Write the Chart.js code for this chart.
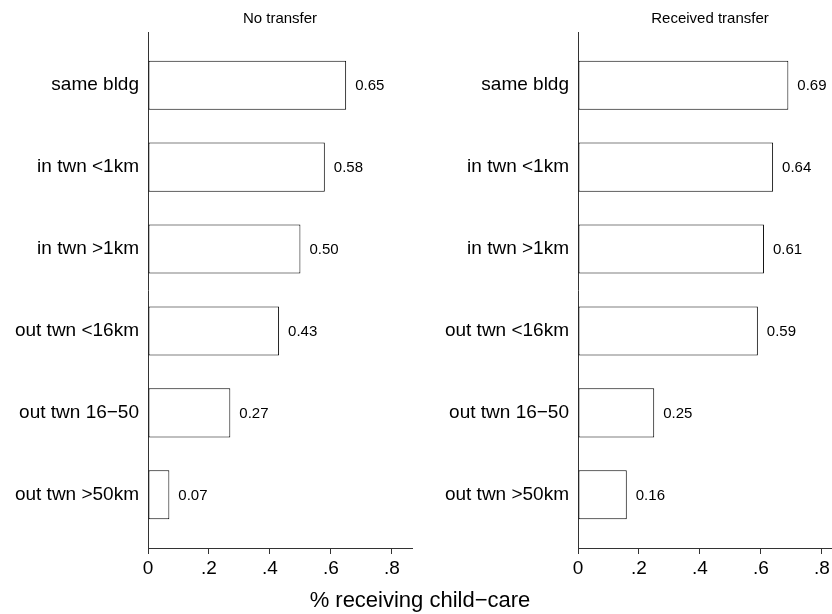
<!DOCTYPE html>
<html>
<head>
<meta charset="utf-8">
<script src="https://cdn.jsdelivr.net/npm/chart.js@4/dist/chart.umd.min.js"></script>
<style>
  html, body { margin: 0; padding: 0; background: #fff; }
  body { width: 832px; height: 614px; position: relative; overflow: hidden; }
  .panel { position: absolute; top: 0; width: 420px; height: 614px; }
  #axisTitle {
    position: absolute; left: 0; top: 589px; width: 840px;
    text-align: center; font: 22px "Liberation Sans", Arial, sans-serif;
    line-height: 22px; color: #000;
  }
</style>
</head>
<body>
<div class="panel" style="left:0"><canvas id="noTransfer"></canvas></div>
<div class="panel" style="left:430px"><canvas id="received"></canvas></div>
<div id="axisTitle">% receiving child−care</div>

<script>
// distance of the recipient to the parent
const categories = ['same bldg', 'in twn <1km', 'in twn >1km', 'out twn <16km', 'out twn 16−50', 'out twn >50km'];
const noTransfer = [0.65, 0.58, 0.50, 0.43, 0.27, 0.07];
const receivedTransfer = [0.69, 0.64, 0.61, 0.59, 0.25, 0.16];
const xTicks = [0, 0.2, 0.4, 0.6, 0.8];

const FONT = '"Liberation Sans", Arial, sans-serif';
const AXIS_COLOR = '#333';

// write the value just past the end of each bar
const valueLabels = {
    id: 'valueLabels',
    afterDatasetsDraw(chart) {
        const ctx = chart.ctx;
        const meta = chart.getDatasetMeta(0);
        const data = chart.data.datasets[0].data;
        ctx.save();
        ctx.font = '15px ' + FONT;
        ctx.fillStyle = '#000';
        ctx.textAlign = 'left';
        ctx.textBaseline = 'middle';
        meta.data.forEach((bar, i) => {
            ctx.fillText(data[i].x.toFixed(2), bar.x + 9, bar.y + 1);
        });
        ctx.restore();
    }
};

function makePanel(id, title, values) {
    return new Chart(document.getElementById(id), {
        type: 'bar',
        data: {
            datasets: [{
                data: values.map((v, i) => ({ x: v, y: i })),
                backgroundColor: '#fff',
                borderColor: '#000',
                borderWidth: 1,
                borderSkipped: false,
                barPercentage: 0.6,
                categoryPercentage: 1
            }]
        },
        options: {
            indexAxis: 'y',
            responsive: true,
            maintainAspectRatio: false,
            animation: false,
            events: [],
            layout: { padding: { top: 0, right: 8, bottom: 0, left: 0 } },
            plugins: {
                legend: { display: false },
                tooltip: { enabled: false },
                title: {
                    display: true,
                    text: title,
                    fullSize: false,
                    color: '#000',
                    font: { family: FONT, size: 15, weight: 'normal', lineHeight: 1.2 },
                    padding: { top: 10, bottom: 4 }
                }
            },
            scales: {
                x: {
                    type: 'linear',
                    min: 0,
                    max: 0.866,
                    afterBuildTicks: s => { s.ticks = xTicks.map(v => ({ value: v })); },
                    afterFit: s => { s.height = 66; },
                    border: { display: true, color: AXIS_COLOR, width: 1 },
                    grid: { display: true, drawOnChartArea: false, drawTicks: true, tickLength: 6, color: AXIS_COLOR },
                    ticks: {
                        color: '#000',
                        padding: 3,
                        maxRotation: 0,
                        font: { family: FONT, size: 19 },
                        callback: v => v === 0 ? '0' : v.toFixed(1).replace(/^0/, '')
                    }
                },
                y: {
                    type: 'linear',
                    reverse: true,
                    offset: false,
                    min: -0.65,
                    max: 5.65,
                    afterBuildTicks: s => { s.ticks = categories.map((c, i) => ({ value: i })); },
                    afterFit: s => { s.width = 148; },
                    border: { display: true, color: AXIS_COLOR, width: 1 },
                    grid: { display: false, drawTicks: false, offset: false },
                    ticks: {
                        color: '#000',
                        padding: 9,
                        font: { family: FONT, size: 19 },
                        callback: v => categories[v]
                    }
                }
            }
        },
        plugins: [valueLabels]
    });
}

makePanel('noTransfer', 'No transfer', noTransfer);
makePanel('received', 'Received transfer', receivedTransfer);
</script>
</body>
</html>
